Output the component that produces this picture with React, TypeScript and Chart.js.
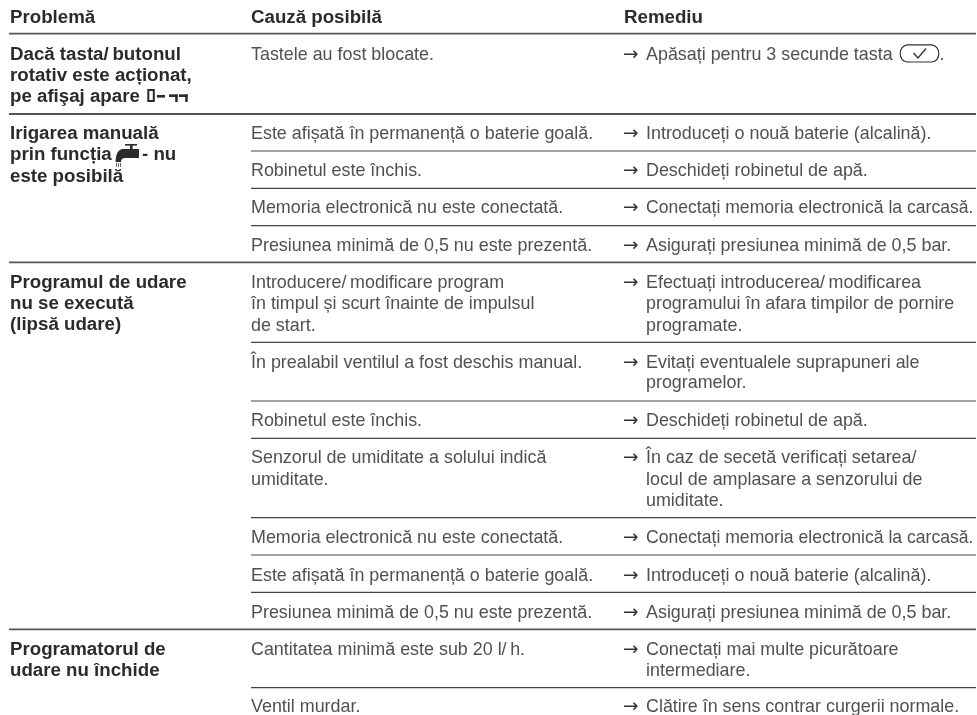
import React, { useEffect, useRef } from "react";
import { Chart, registerables } from "chart.js";

Chart.register(...registerables);

// Table content: [text, x, baseline]
const headers: [string, number, number][] = [
  ["Problemă", 10, 23],
  ["Cauză posibilă", 251, 23],
  ["Remediu", 624, 23],
];
const problems: [string, number, number][] = [
  ["Dacă tasta/\u2009butonul", 10, 59.5],
  ["rotativ este acționat,", 10, 80.5],
  ["pe afişaj apare", 10, 101.5],
  ["Irigarea manuală", 10, 138.5],
  ["prin funcția", 10, 160],
  ["- nu", 142, 160],
  ["este posibilă", 10, 181.5],
  ["Programul de udare", 10, 288.3],
  ["nu se execută", 10, 309],
  ["(lipsă udare)", 10, 330],
  ["Programatorul de", 10, 654.5],
  ["udare nu închide", 10, 676],
];
const causes: [string, number, number][] = [
  ["Tastele au fost blocate.", 251, 59.5],
  ["Este afișată în permanență o baterie goală.", 251, 138.5],
  ["Robinetul este închis.", 251, 176],
  ["Memoria electronică nu este conectată.", 251, 213.3],
  ["Presiunea minimă de 0,5 nu este prezentă.", 251, 250.7],
  ["Introducere/\u2009modificare program", 251, 288.3],
  ["în timpul și scurt înainte de impulsul", 251, 309.3],
  ["de start.", 251, 330.7],
  ["În prealabil ventilul a fost deschis manual.", 251, 368.3],
  ["Robinetul este închis.", 251, 425.7],
  ["Senzorul de umiditate a solului indică", 251, 462.7],
  ["umiditate.", 251, 484.5],
  ["Memoria electronică nu este conectată.", 251, 543.3],
  ["Este afișată în permanență o baterie goală.", 251, 580.7],
  ["Presiunea minimă de 0,5 nu este prezentă.", 251, 618.3],
  ["Cantitatea minimă este sub 20 l/\u2009h.", 251, 655],
  ["Ventil murdar.", 251, 712.3],
];
const remedies: [string, number][] = [
  ["Apăsați pentru 3 secunde tasta", 59.5],
  ["Introduceți o nouă baterie (alcalină).", 138.5],
  ["Deschideți robinetul de apă.", 176],
  ["Conectați memoria electronică la carcasă.", 213.3],
  ["Asigurați presiunea minimă de 0,5 bar.", 250.7],
  ["Efectuați introducerea/\u2009modificarea", 288.3],
  ["Evitați eventualele suprapuneri ale", 368.3],
  ["Deschideți robinetul de apă.", 425.7],
  ["În caz de secetă verificați setarea/", 462.7],
  ["Conectați memoria electronică la carcasă.", 543.3],
  ["Introduceți o nouă baterie (alcalină).", 580.7],
  ["Asigurați presiunea minimă de 0,5 bar.", 618.3],
  ["Conectați mai multe picurătoare", 655],
  ["Clătire în sens contrar curgerii normale.", 712.3],
];
const remedyContinuations: [string, number][] = [
  ["programului în afara timpilor de pornire", 309.3],
  ["programate.", 330.7],
  ["programelor.", 388.3],
  ["locul de amplasare a senzorului de", 484.5],
  ["umiditate.", 505.7],
  ["intermediare.", 676],
];
const thickRules = [33.7, 114, 262.3, 629.3];
const thinRules = [151, 188.3, 225.7, 342.3, 401, 438.3, 517.7, 555, 592.3, 687.7];

const tablePlugin = {
  id: "tableText",
  afterDatasetsDraw(chart: any) {
    const { ctx, scales } = chart;
    const X = (v: number) => scales.x.getPixelForValue(v);
    const Y = (v: number) => scales.y.getPixelForValue(v);
    ctx.save();
    ctx.textBaseline = "alphabetic";
    ctx.textAlign = "left";
    const bold = "bold 18.7px 'Liberation Sans'";
    const reg = "17.9px 'Liberation Sans'";
    const arrow = "18.5px 'DejaVu Sans'";
    const maxRemedy = 327.5;

    ctx.font = bold;
    ctx.fillStyle = "#2b2b2b";
    for (const [t, x, y] of headers) ctx.fillText(t, X(x), Y(y));
    for (const [t, x, y] of problems) ctx.fillText(t, X(x), Y(y));

    ctx.font = reg;
    ctx.fillStyle = "#505050";
    for (const [t, x, y] of causes) ctx.fillText(t, X(x), Y(y));
    for (const [t, y] of remedies) {
      ctx.fillText(t, X(646), Y(y), maxRemedy);
    }
    for (const [t, y] of remedyContinuations) ctx.fillText(t, X(646), Y(y), maxRemedy);
    ctx.fillText(".", X(939.5), Y(59.5));

    ctx.font = arrow;
    ctx.fillStyle = "#333333";
    for (const [, y] of remedies) ctx.fillText("→", X(623), Y(y));

    // display symbol
    ctx.fillStyle = "#2b2b2b";
    ctx.strokeStyle = "#2b2b2b";
    ctx.lineWidth = 2;
    ctx.strokeRect(X(148.3), Y(90), 5.5, 11);
    ctx.fillRect(X(157), Y(95), 8, 2.6);
    ctx.fillRect(X(169), Y(94.4), 8.6, 2.6);
    ctx.fillRect(X(175.2), Y(94.4), 2.5, 7.6);
    ctx.fillRect(X(179), Y(94.4), 8.6, 2.6);
    ctx.fillRect(X(185.2), Y(94.4), 2.5, 7.6);

    // tap symbol
    ctx.fillRect(X(125), Y(144), 12, 1.6);
    ctx.fillRect(X(130), Y(144), 2.6, 6);
    ctx.beginPath();
    ctx.moveTo(X(139), Y(149));
    ctx.lineTo(X(122), Y(149));
    ctx.quadraticCurveTo(X(116), Y(150), X(115.5), Y(162));
    ctx.lineTo(X(121), Y(162));
    ctx.quadraticCurveTo(X(121), Y(158), X(125), Y(158));
    ctx.lineTo(X(139), Y(158));
    ctx.closePath();
    ctx.fill();
    ctx.lineWidth = 0.7;
    for (const dx of [116.5, 118.5, 120.5]) {
      ctx.beginPath();
      ctx.moveTo(X(dx), Y(163));
      ctx.lineTo(X(dx), Y(167));
      ctx.stroke();
    }

    // key symbol
    ctx.lineWidth = 1.2;
    ctx.strokeStyle = "#333333";
    ctx.beginPath();
    ctx.moveTo(X(907), Y(44.8));
    ctx.lineTo(X(932), Y(44.8));
    ctx.bezierCurveTo(X(941), Y(47), X(941), Y(60), X(932), Y(62));
    ctx.lineTo(X(907), Y(62));
    ctx.bezierCurveTo(X(898), Y(60), X(898), Y(47), X(907), Y(44.8));
    ctx.closePath();
    ctx.stroke();
    ctx.lineWidth = 1.4;
    ctx.beginPath();
    ctx.moveTo(X(913.5), Y(53));
    ctx.lineTo(X(918), Y(58));
    ctx.lineTo(X(926), Y(48.5));
    ctx.stroke();
    ctx.restore();
  },
};

export default function App() {
  const ref = useRef<HTMLCanvasElement>(null);
  useEffect(() => {
    const chart = new Chart(ref.current!, {
      type: "line",
      data: {
        datasets: [
          ...thickRules.map((y) => ({
            data: [{ x: 9, y }, { x: 976, y }],
            borderColor: "#555555",
            borderWidth: 1.8,
            pointRadius: 0,
          })),
          ...thinRules.map((y) => ({
            data: [{ x: 251, y }, { x: 976, y }],
            borderColor: "#444444",
            borderWidth: 1.2,
            pointRadius: 0,
          })),
        ],
      },
      options: {
        animation: false,
        responsive: false,
        layout: { padding: 0 },
        plugins: { legend: { display: false }, tooltip: { enabled: false }, title: { display: false } },
        scales: {
          x: { type: "linear", min: 0, max: 977, display: false },
          y: { type: "linear", min: 0, max: 715, reverse: true, display: false },
        },
      },
      plugins: [tablePlugin],
    } as any);
    return () => chart.destroy();
  }, []);
  return (
    <div style={{ position: "absolute", left: 0, top: 0, width: 977, height: 715, background: "#fff" }}>
      <canvas ref={ref} width={977} height={715} style={{ display: "block" }} />
    </div>
  );
}
